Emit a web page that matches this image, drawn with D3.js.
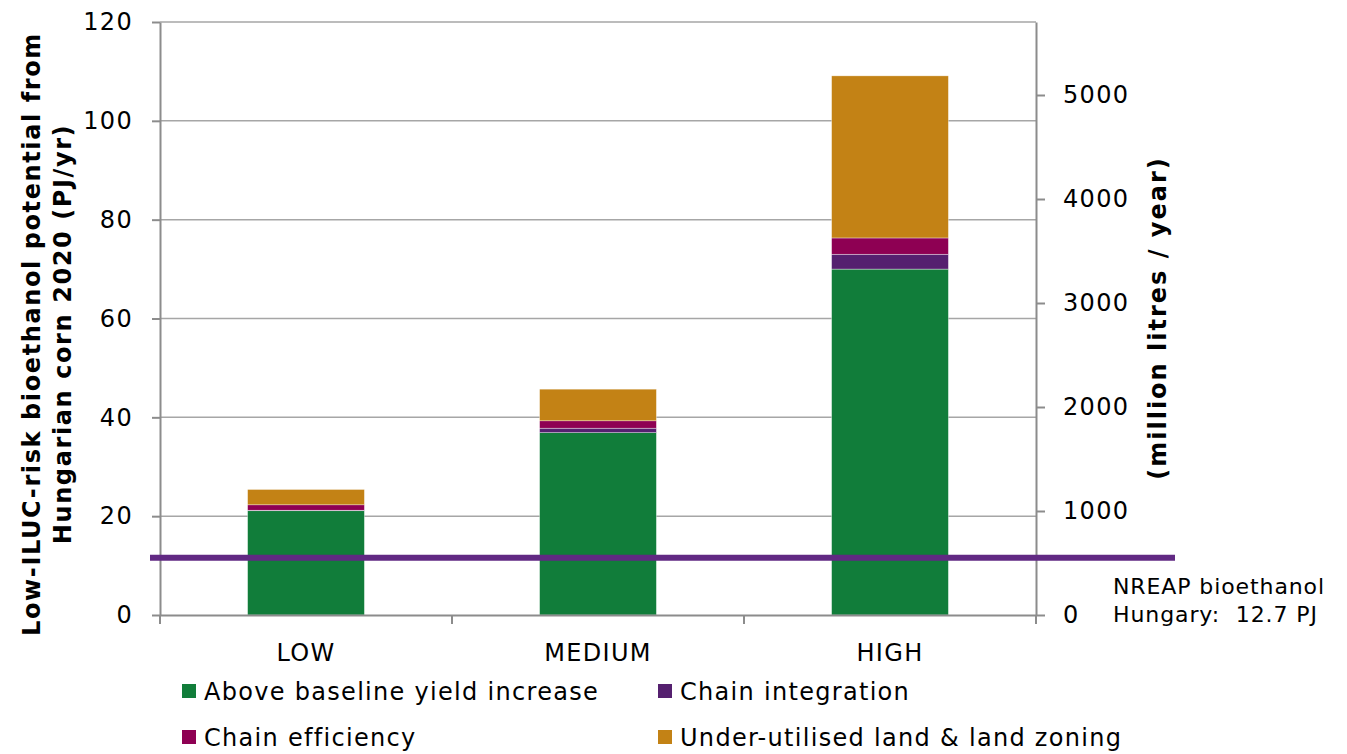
<!DOCTYPE html>
<html>
<head>
<meta charset="utf-8">
<script src="https://cdn.jsdelivr.net/npm/d3@7"></script>
<style>
  body { margin: 0; background: #fff; }
  text { font-family: "DejaVu Sans", Verdana, sans-serif; fill: #000; letter-spacing: 1.3px; }
</style>
</head>
<body>
<script>
// Datos del gráfico (PJ/año)
const escenarios = ["LOW", "MEDIUM", "HIGH"];
const series = ["Above baseline yield increase", "Chain integration", "Chain efficiency", "Under-utilised land & land zoning"];
const rendimiento = [21.1, 36.9, 70.0];
const integracion = [0.1, 0.9, 3.0];
const eficiencia = [1.1, 1.5, 3.3];
const tierras = [3.1, 6.4, 32.8];
const colores = ["#117d3a", "#55206f", "#8e0053", "#c38215"];
const ticksIzq = [0, 20, 40, 60, 80, 100, 120];
const ticksDer = [0, 1000, 2000, 3000, 4000, 5000];
const nreap = 11.6;        // posición de la línea NREAP
const maxLitros = 5702;    // equivale a 120 PJ en el eje derecho

const ancho = 1347, alto = 754;
const m = { left: 160, right: 311, top: 22, bottom: 139 };

const svg = d3.select("body").append("svg")
  .attr("width", ancho).attr("height", alto);

const x = d3.scaleBand().domain(escenarios)
  .range([m.left, ancho - m.right]).paddingInner(0.6).paddingOuter(0.3);
const y = d3.scaleLinear().domain([0, 120]).range([alto - m.bottom, m.top]);
const y2 = d3.scaleLinear().domain([0, maxLitros]).range([alto - m.bottom, m.top]);

// Líneas de cuadrícula
svg.append("g")
  .selectAll("line")
  .data(ticksIzq.slice(1))
  .join("line")
  .attr("x1", m.left).attr("x2", ancho - m.right)
  .attr("y1", d => y(d)).attr("y2", d => y(d))
  .attr("stroke", "#a6a6a6").attr("stroke-width", 1.5);

// Apilar las series
const tabla = escenarios.map((e, i) => ({
  esc: e, s0: rendimiento[i], s1: integracion[i], s2: eficiencia[i], s3: tierras[i]
}));
const pila = d3.stack().keys(["s0", "s1", "s2", "s3"])(tabla);

svg.append("g")
  .selectAll("g")
  .data(pila)
  .join("g")
  .attr("fill", (_, i) => colores[i])
  .selectAll("rect")
  .data(d => d)
  .join("rect")
  .attr("x", d => x(d.data.esc))
  .attr("width", x.bandwidth())
  .attr("y", d => y(d[1]))
  .attr("height", d => y(d[0]) - y(d[1]))
  .attr("stroke", "#fff").attr("stroke-width", 0.6).attr("stroke-opacity", 0.6);

// Ejes
const estiloEje = g => {
  g.select(".domain").attr("stroke", "#8c8c8c").attr("stroke-width", 2);
  g.selectAll(".tick line").attr("stroke", "#8c8c8c").attr("stroke-width", 2);
  g.selectAll("text").attr("font-size", 24).attr("fill", "#000");
};

svg.append("g")
  .attr("transform", `translate(${m.left},0)`)
  .call(d3.axisLeft(y).tickValues(ticksIzq).tickSize(8).tickSizeOuter(0).tickPadding(19))
  .call(estiloEje);

svg.append("g")
  .attr("transform", `translate(${ancho - m.right},0)`)
  .call(d3.axisRight(y2).tickValues(ticksDer).tickFormat(d3.format("d"))
    .tickSize(9).tickSizeOuter(0).tickPadding(18))
  .call(estiloEje);

// Eje X con marcas entre categorías
const gx = svg.append("g")
  .attr("transform", `translate(0,${alto - m.bottom})`)
  .call(d3.axisBottom(x).tickSize(0).tickPadding(29))
  .call(estiloEje);
gx.selectAll(".sep")
  .data(d3.range(escenarios.length + 1))
  .join("line")
  .attr("x1", i => m.left + i * (ancho - m.right - m.left) / escenarios.length)
  .attr("x2", i => m.left + i * (ancho - m.right - m.left) / escenarios.length)
  .attr("y1", 0).attr("y2", 9)
  .attr("stroke", "#8c8c8c").attr("stroke-width", 2);

// Línea NREAP
svg.append("line")
  .attr("x1", 150).attr("x2", 1175)
  .attr("y1", y(nreap)).attr("y2", y(nreap))
  .attr("stroke", "#612983").attr("stroke-width", 6);

svg.append("text")
  .attr("x", 1113).attr("y", 594)
  .attr("font-size", 22)
  .style("letter-spacing", "0.9px")
  .selectAll("tspan")
  .data(["NREAP bioethanol", "Hungary:\u00a0 12.7 PJ"])
  .join("tspan")
  .attr("x", 1113)
  .attr("dy", (_, i) => i ? 28 : 0)
  .text(d => d);

// Títulos de ejes
svg.append("text")
  .attr("transform", `translate(40,334) rotate(-90)`)
  .attr("text-anchor", "middle")
  .attr("font-size", 24).attr("font-weight", "bold")
  .style("letter-spacing", "1.6px")
  .selectAll("tspan")
  .data(["Low-ILUC-risk bioethanol potential from", "Hungarian corn 2020 (PJ/yr)"])
  .join("tspan")
  .attr("x", 0)
  .attr("dy", (_, i) => i ? 31 : 0)
  .text(d => d);

svg.append("text")
  .attr("transform", `translate(1166,318) rotate(-90)`)
  .attr("text-anchor", "middle")
  .attr("font-size", 24).attr("font-weight", "bold")
  .style("letter-spacing", "2px")
  .text("(million litres / year)");

// Leyenda
const posLeyenda = [[182, 700], [658, 700], [182, 746], [658, 746]];
const leyenda = svg.append("g")
  .selectAll("g")
  .data(series)
  .join("g")
  .attr("transform", (_, i) => `translate(${posLeyenda[i][0]},${posLeyenda[i][1]})`);
leyenda.append("rect")
  .attr("y", -16).attr("width", 14).attr("height", 14)
  .attr("fill", (_, i) => colores[i]);
leyenda.append("text")
  .attr("x", 22).attr("y", 0)
  .attr("font-size", 24)
  .text(d => d);
</script>
</body>
</html>
